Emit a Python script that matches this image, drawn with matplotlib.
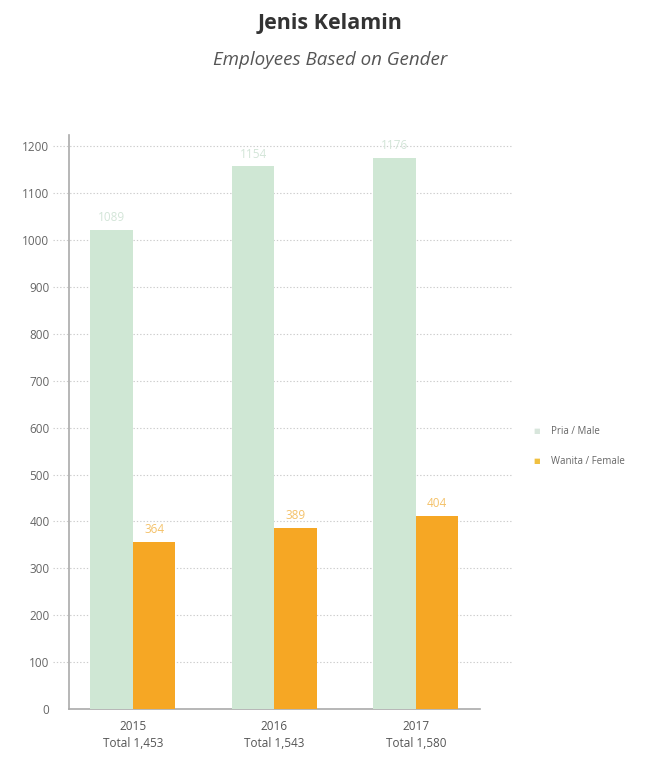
import matplotlib
matplotlib.use("Agg")
import matplotlib.pyplot as plt
import matplotlib.transforms as mtransforms

years = ["2015", "2016", "2017"]
totals = ["Total 1,453", "Total 1,543", "Total 1,580"]
# bar heights as drawn in the picture, and the value labels printed above them
male_bars = [1022, 1157, 1175]
female_bars = [357, 387, 412]
male_labels = ["1089", "1154", "1176"]
female_labels = ["364", "389", "404"]
yticks = list(range(0, 1300, 100))

green = "#cfe7d4"
orange = "#f6a724"

plt.rcParams["font.family"] = ["Open Sans", "DejaVu Sans"]

fig = plt.figure(figsize=(6.5, 7.65), dpi=100)
ax = fig.add_axes([0.106, 0.0732, 0.683, 0.7503])

w = 0.30
pos = list(range(len(years)))
ax.bar([p - w / 2 for p in pos], male_bars, width=w, color=green, zorder=3)
ax.bar([p + w / 2 for p in pos], female_bars, width=w, color=orange, zorder=3)

for p, h, t in zip(pos, male_bars, male_labels):
    ax.text(p - w / 2, h + 12, t, ha="center", va="bottom", fontsize=8.5, color="#d3e5d8", zorder=4)
for p, h, t in zip(pos, female_bars, female_labels):
    ax.text(p + w / 2, h + 12, t, ha="center", va="bottom", fontsize=8.5, color="#f4c168", zorder=4)

# dotted grid lines, reaching a little past the y axis
trans = mtransforms.blended_transform_factory(ax.transAxes, ax.transData)
for y in yticks[1:]:
    ax.plot([-0.035, 1.0], [y, y], transform=trans, color="#cccccc", lw=0.8,
            ls=(0, (1.2, 1.8)), clip_on=False, zorder=1)

ax.set_xlim(-0.452, 2.686)
ax.set_ylim(0, 1224)
ax.set_yticks(yticks)
ax.set_yticklabels([str(v) for v in yticks], fontsize=8.5, color="#666666")
ax.tick_params(axis="y", length=0, pad=14)
ax.set_xticks(pos)
ax.set_xticklabels([f"{y}\n{t}" for y, t in zip(years, totals)], fontsize=8.5,
                   color="#555555", linespacing=1.4)
ax.tick_params(axis="x", length=0, pad=8)

for s in ["top", "right"]:
    ax.spines[s].set_visible(False)
ax.spines["left"].set_color("#aaaaaa")
ax.spines["bottom"].set_color("#aaaaaa")
ax.spines["left"].set_linewidth(1.2)
ax.spines["bottom"].set_linewidth(1.2)
ax.spines["bottom"].set_bounds(-0.452, 2.452)

fig.text(0.508, 1 - 24 / 765, "Jenis Kelamin", ha="center", va="center", fontsize=15.5,
         fontweight="bold", color="#333333")
fig.text(0.508, 1 - 60 / 765, "Employees Based on Gender", ha="center", va="center",
         fontsize=13.5, style="italic", color="#555555")

# legend
fig.text(0.826, 1 - 432 / 765, "\u25a0", ha="center", va="center", fontsize=5, color="#d8e6dc")
fig.text(0.848, 1 - 432 / 765, "Pria / Male", ha="left", va="center", fontsize=7, color="#666666")
fig.text(0.826, 1 - 462 / 765, "\u25a0", ha="center", va="center", fontsize=5, color="#f0c040")
fig.text(0.848, 1 - 462 / 765, "Wanita / Female", ha="left", va="center", fontsize=7, color="#666666")

fig.savefig("out.png", dpi=100)
